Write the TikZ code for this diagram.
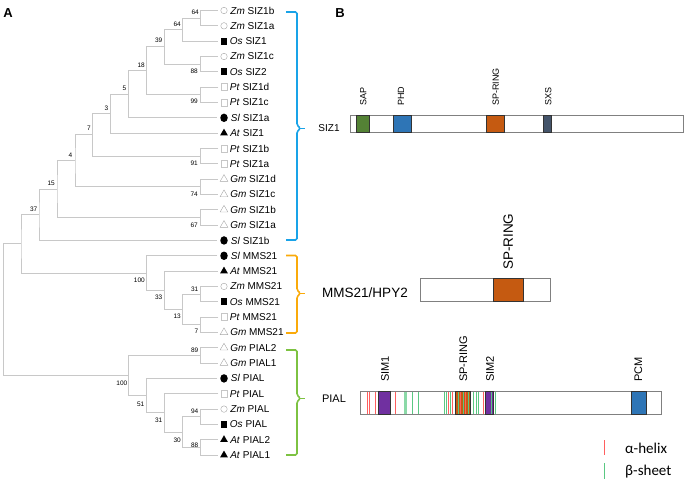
\documentclass[tikz,border=0pt]{standalone}
\usepackage{fontspec}
\setmainfont{Liberation Sans}
\newfontfamily\legendfont{Carlito}
\usetikzlibrary{shapes.geometric}
\definecolor{branchgray}{RGB}{200,200,200}
\definecolor{siz1blue}{RGB}{25,163,232}
\definecolor{mmsorange}{RGB}{250,170,10}
\definecolor{pialgreen}{RGB}{125,194,66}
\definecolor{sapgreen}{RGB}{84,130,53}
\definecolor{phdblue}{RGB}{46,117,182}
\definecolor{ringorange}{RGB}{197,90,17}
\definecolor{sxsslate}{RGB}{68,84,106}
\definecolor{simpurple}{RGB}{112,48,160}
\definecolor{helixred}{RGB}{255,95,95}
\definecolor{sheetgreen}{RGB}{90,200,130}
\tikzstyle{branch} = [draw=branchgray, line width=0.9pt]
\tikzstyle{bracket} = [line width=1.6pt, rounded corners=1.5pt]
\tikzstyle{bar} = [draw=gray, line width=0.8pt, fill=white]
\tikzstyle{protdomain} = [draw=black!80, line width=0.5pt]

\begin{document}
\begin{tikzpicture}[
            x=1pt, y=-1pt,
            every node/.style={inner sep=0pt},
            boot/.style={font=\fontsize{6.5}{7}\selectfont, anchor=east},
            leaf/.style={font=\fontsize{10}{12}\selectfont},
            marker/.style={inner sep=0pt, outer sep=3pt},
            zmmark/.style={marker, circle, draw=gray!70, fill=white, minimum size=6.5pt},
            osmark/.style={marker, rectangle, fill=black, minimum width=5.5pt, minimum height=7pt},
            ptmark/.style={marker, rectangle, draw=gray!45, fill=white, minimum width=5.5pt, minimum height=7pt},
            slmark/.style={marker, ellipse, fill=black, minimum width=7.5pt, minimum height=8.5pt},
            atmark/.style={marker, regular polygon, regular polygon sides=3, fill=black, minimum size=9pt},
            gmmark/.style={marker, regular polygon, regular polygon sides=3, draw=gray!70, minimum size=9pt},
            domlabel/.style={rotate=90, anchor=west},
            helix/.style={draw=helixred, line width=1pt},
            sheet/.style={draw=sheetgreen, line width=1pt},
            legend/.style={font=\legendfont\fontsize{15}{17}\selectfont, anchor=west},
            panel/.style={font=\bfseries\fontsize{13}{15}\selectfont}
        ]
            \useasboundingbox (0,0) rectangle (686,485);

            % Panel letters
            \node[panel] (pa) at (8,13) {A};
            \node[panel] (pb) at (340,13) {B};

            % Leaves
            \node[zmmark, label={[leaf]right:{\textit{Zm} SIZ1b}}] (zm1b) at (224,10.5) {};
            \node[zmmark, label={[leaf]right:{\textit{Zm} SIZ1a}}] (zm1a) at (224,25.83) {};
            \node[osmark, label={[leaf]right:{\textit{Os} SIZ1}}] (os1) at (224,41.16) {};
            \node[zmmark, label={[leaf]right:{\textit{Zm} SIZ1c}}] (zm1c) at (224,56.49) {};
            \node[osmark, label={[leaf]right:{\textit{Os} SIZ2}}] (os2) at (224,71.82) {};
            \node[ptmark, label={[leaf]right:{\textit{Pt} SIZ1d}}] (pt1d) at (224,87.15) {};
            \node[ptmark, label={[leaf]right:{\textit{Pt} SIZ1c}}] (pt1c) at (224,102.48) {};
            \node[slmark, label={[leaf]right:{\textit{Sl} SIZ1a}}] (sl1a) at (224,117.81) {};
            \node[atmark, label={[leaf]right:{\textit{At} SIZ1}}] (at1) at (224,133.14) {};
            \node[ptmark, label={[leaf]right:{\textit{Pt} SIZ1b}}] (pt1b) at (224,148.47) {};
            \node[ptmark, label={[leaf]right:{\textit{Pt} SIZ1a}}] (pt1a) at (224,163.8) {};
            \node[gmmark, label={[leaf]right:{\textit{Gm} SIZ1d}}] (gm1d) at (224,179.13) {};
            \node[gmmark, label={[leaf]right:{\textit{Gm} SIZ1c}}] (gm1c) at (224,194.46) {};
            \node[gmmark, label={[leaf]right:{\textit{Gm} SIZ1b}}] (gm1b) at (224,209.79) {};
            \node[gmmark, label={[leaf]right:{\textit{Gm} SIZ1a}}] (gm1a) at (224,225.12) {};
            \node[slmark, label={[leaf]right:{\textit{Sl} SIZ1b}}] (sl1b) at (224,240.45) {};
            \node[slmark, label={[leaf]right:{\textit{Sl} MMS21}}] (slmms) at (224,255.78) {};
            \node[atmark, label={[leaf]right:{\textit{At} MMS21}}] (atmms) at (224,271.11) {};
            \node[zmmark, label={[leaf]right:{\textit{Zm} MMS21}}] (zmmms) at (224,286.44) {};
            \node[osmark, label={[leaf]right:{\textit{Os} MMS21}}] (osmms) at (224,301.77) {};
            \node[ptmark, label={[leaf]right:{\textit{Pt} MMS21}}] (ptmms) at (224,317.1) {};
            \node[gmmark, label={[leaf]right:{\textit{Gm} MMS21}}] (gmmms) at (224,332.43) {};
            \node[gmmark, label={[leaf]right:{\textit{Gm} PIAL2}}] (gmpial2) at (224,347.76) {};
            \node[gmmark, label={[leaf]right:{\textit{Gm} PIAL1}}] (gmpial1) at (224,363.09) {};
            \node[slmark, label={[leaf]right:{\textit{Sl} PIAL}}] (slpial) at (224,378.42) {};
            \node[ptmark, label={[leaf]right:{\textit{Pt} PIAL}}] (ptpial) at (224,393.75) {};
            \node[zmmark, label={[leaf]right:{\textit{Zm} PIAL}}] (zmpial) at (224,409.08) {};
            \node[osmark, label={[leaf]right:{\textit{Os} PIAL}}] (ospial) at (224,424.41) {};
            \node[atmark, label={[leaf]right:{\textit{At} PIAL2}}] (atpial2) at (224,439.74) {};
            \node[atmark, label={[leaf]right:{\textit{At} PIAL1}}] (atpial1) at (224,455.07) {};

            % Inner nodes of the tree
            \coordinate (n64a) at (200.5,18.17);
            \coordinate (n64b) at (182.5,29.66);
            \coordinate (n88a) at (200.5,64.16);
            \coordinate (n39) at (164.5,46.91);
            \coordinate (n99) at (200.5,94.82);
            \coordinate (n18) at (146.5,70.86);
            \coordinate (n5) at (128.5,94.34);
            \coordinate (n3) at (110.5,113.74);
            \coordinate (n91) at (200.5,156.14);
            \coordinate (n7) at (92.5,134.93);
            \coordinate (n74) at (200.5,186.8);
            \coordinate (n4) at (75,160.86);
            \coordinate (n67) at (200.5,217.46);
            \coordinate (n15) at (57,189.16);
            \coordinate (n37) at (39,214.8);
            \coordinate (n31m) at (200.5,294.1);
            \coordinate (n7m) at (200.5,324.77);
            \coordinate (n13) at (182.5,309.44);
            \coordinate (n33) at (164.5,290.27);
            \coordinate (n100m) at (146.5,273.03);
            \coordinate (nsm) at (21,243.92);
            \coordinate (n89) at (200.5,355.43);
            \coordinate (n94) at (200.5,416.75);
            \coordinate (n88p) at (200.5,447.41);
            \coordinate (n30) at (182.5,432.08);
            \coordinate (n31p) at (164.5,412.93);
            \coordinate (n51) at (146.5,395.67);
            \coordinate (n100p) at (128.5,375.54);
            \coordinate (root) at (3.5,309.73);

            % Branches
            \draw[branch] (zm1b) -| (n64a) |- (zm1a);
            \draw[branch] (n64a) -| (n64b) |- (os1);
            \draw[branch] (zm1c) -| (n88a) |- (os2);
            \draw[branch] (n64b) -| (n39) |- (n88a);
            \draw[branch] (pt1d) -| (n99) |- (pt1c);
            \draw[branch] (n39) -| (n18) |- (n99);
            \draw[branch] (n18) -| (n5) |- (sl1a);
            \draw[branch] (n5) -| (n3) |- (at1);
            \draw[branch] (pt1b) -| (n91) |- (pt1a);
            \draw[branch] (n3) -| (n7) |- (n91);
            \draw[branch] (gm1d) -| (n74) |- (gm1c);
            \draw[branch] (n7) -| (n4) |- (n74);
            \draw[branch] (gm1b) -| (n67) |- (gm1a);
            \draw[branch] (n4) -| (n15) |- (n67);
            \draw[branch] (n15) -| (n37) |- (sl1b);
            \draw[branch] (zmmms) -| (n31m) |- (osmms);
            \draw[branch] (ptmms) -| (n7m) |- (gmmms);
            \draw[branch] (n31m) -| (n13) |- (n7m);
            \draw[branch] (atmms) -| (n33) |- (n13);
            \draw[branch] (slmms) -| (n100m) |- (n33);
            \draw[branch] (n37) -| (nsm) |- (n100m);
            \draw[branch] (gmpial2) -| (n89) |- (gmpial1);
            \draw[branch] (zmpial) -| (n94) |- (ospial);
            \draw[branch] (atpial2) -| (n88p) |- (atpial1);
            \draw[branch] (n94) -| (n30) |- (n88p);
            \draw[branch] (ptpial) -| (n31p) |- (n30);
            \draw[branch] (slpial) -| (n51) |- (n31p);
            \draw[branch] (n89) -| (n100p) |- (n51);
            \draw[branch] (nsm) -| (root) |- (n100p);

            % Bootstrap values
            \node[boot] (b64a) at (199,12.3) {64};
            \node[boot] (b64b) at (181,24) {64};
            \node[boot] (b39) at (162.5,40.7) {39};
            \node[boot] (b88a) at (198,71) {88};
            \node[boot] (b99) at (198,101.7) {99};
            \node[boot] (b18) at (145,65) {18};
            \node[boot] (b5) at (126.5,88.3) {5};
            \node[boot] (b3) at (108.5,108.3) {3};
            \node[boot] (b7) at (91,128) {7};
            \node[boot] (b91) at (198,163.3) {91};
            \node[boot] (b4) at (72.5,155) {4};
            \node[boot] (b74) at (198,194) {74};
            \node[boot] (b15) at (55,183.3) {15};
            \node[boot] (b67) at (198,225) {67};
            \node[boot] (b37) at (37.5,209.3) {37};
            \node[boot] (b100m) at (145,280.7) {100};
            \node[boot] (b33) at (162.5,297.7) {33};
            \node[boot] (b31m) at (198.5,289) {31};
            \node[boot] (b13) at (181,316.7) {13};
            \node[boot] (b7m) at (198.5,331.7) {7};
            \node[boot] (b89) at (198.5,350) {89};
            \node[boot] (b100p) at (127.5,383.3) {100};
            \node[boot] (b51) at (144.5,404) {51};
            \node[boot] (b31p) at (162.5,420) {31};
            \node[boot] (b94) at (198.5,411.7) {94};
            \node[boot] (b30) at (181,440) {30};
            \node[boot] (b88p) at (198.5,445) {88};

            % Brackets
            \draw[bracket, siz1blue] (286,12) -- (297,12) -- (297,125) -- (300.5,128.3) -- (297,131.6) -- (297,240) -- (286,240);
            \draw[bracket, siz1blue] (300,128.3) -- (305,128.3);
            \draw[bracket, mmsorange] (286,255.5) -- (297,255.5) -- (297,290) -- (300.5,293.3) -- (297,296.6) -- (297,333) -- (286,333);
            \draw[bracket, mmsorange] (300,293.3) -- (305,293.3);
            \draw[bracket, pialgreen] (286,350) -- (297,350) -- (297,395) -- (300.5,398.3) -- (297,401.6) -- (297,455) -- (286,455);
            \draw[bracket, pialgreen] (300,398.3) -- (305,398.3);

            % SIZ1
            \node[font=\fontsize{10}{12}\selectfont] (siz1) at (329,128.3) {SIZ1};
            \draw[bar] (350,115.7) rectangle (683.3,132.7);
            \draw[protdomain, fill=sapgreen] (356,115.7) rectangle (369,132.7);
            \draw[protdomain, fill=phdblue] (393.3,115.7) rectangle (411.7,132.7);
            \draw[protdomain, fill=ringorange] (486.7,115.7) rectangle (504.3,132.7);
            \draw[protdomain, fill=sxsslate] (543.7,115.7) rectangle (551.7,132.7);
            \node[domlabel, font=\fontsize{9}{11}\selectfont] (lsap) at (363.3,106) {SAP};
            \node[domlabel, font=\fontsize{9}{11}\selectfont] (lphd) at (401,106) {PHD};
            \node[domlabel, font=\fontsize{9}{11}\selectfont] (lring1) at (495.7,106) {SP-RING};
            \node[domlabel, font=\fontsize{9}{11}\selectfont] (lsxs) at (548.3,106) {SXS};

            % MMS21/HPY2
            \node[font=\fontsize{13.5}{15}\selectfont] (mms) at (365,293) {MMS21/HPY2};
            \draw[bar] (420.7,278.3) rectangle (550,301.7);
            \draw[protdomain, fill=ringorange] (493.3,278.3) rectangle (523.3,301.7);
            \node[domlabel, font=\fontsize{13.5}{15}\selectfont] (lring2) at (508.3,270) {SP-RING};

            % PIAL
            \node[font=\fontsize{11}{13}\selectfont] (pial) at (334,398.3) {PIAL};
            \draw[bar] (360,391.7) rectangle (661.7,414);
            \draw[protdomain, fill=simpurple] (378.3,391.7) rectangle (390.7,414);
            \draw[protdomain, fill=ringorange] (455.3,391.7) rectangle (470.7,414);
            \draw[protdomain, fill=simpurple] (485,391.7) rectangle (493.3,414);
            \draw[protdomain, fill=phdblue] (631,391.7) rectangle (646.7,414);
            \foreach \x in {367.8,369.8,375,395.7,448.5,452,460.7,465.7,483.3}
                \draw[helix] (\x,392.2) -- (\x,413.5);
            \foreach \x in {412.7,418.3,444.3,446.2,450.2,458.3,463.3,468,473.3,476.7,478.5,491.7,495}
                \draw[sheet] (\x,392.2) -- (\x,413.5);
            \draw[sheet, line width=3pt, draw=sheetgreen!70] (405,392.2) -- (405,413.5);
            \node[domlabel, font=\fontsize{11}{13}\selectfont] (lsim1) at (385,382) {SIM1};
            \node[domlabel, font=\fontsize{11}{13}\selectfont] (lring3) at (463.3,382) {SP-RING};
            \node[domlabel, font=\fontsize{11}{13}\selectfont] (lsim2) at (490,382) {SIM2};
            \node[domlabel, font=\fontsize{11}{13}\selectfont] (lpcm) at (638.3,382) {PCM};

            % Legend
            \draw[helix, line width=1pt] (604,440) -- (604,455);
            \node[legend] (lhelix) at (625,448) {α-helix};
            \draw[sheet, line width=1pt] (604,463) -- (604,479);
            \node[legend] (lsheet) at (625,471.5) {β-sheet};
        \end{tikzpicture}
\end{document}
